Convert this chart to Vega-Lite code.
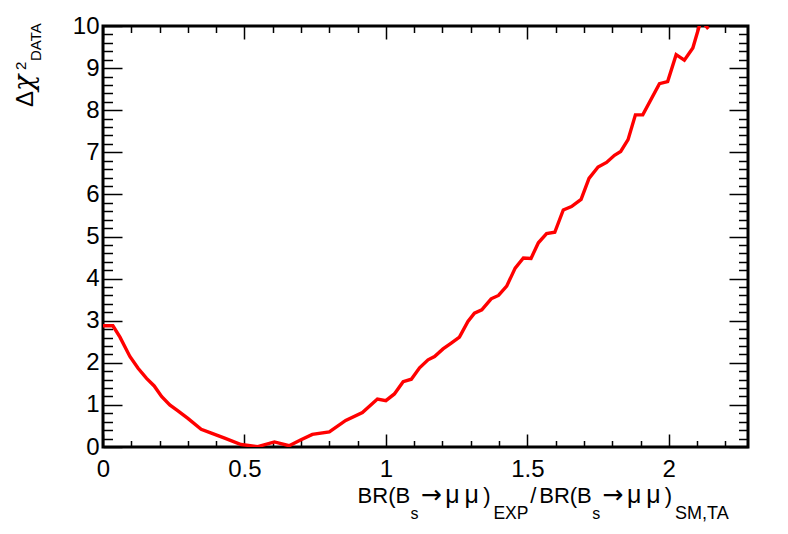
{
  "$schema": "https://vega.github.io/schema/vega-lite/v6.json",
  "width": 645,
  "height": 421,
  "autosize": {"type": "none"},
  "padding": {"left": 103, "top": 26, "right": 40, "bottom": 87},
  "background": "white",
  "config": {
    "view": {"stroke": "black", "strokeWidth": 3},
    "font": "Liberation Sans",
    "axis": {"grid": false, "domain": false, "title": null, "labelFont": "Liberation Sans", "labelFontSize": 24, "labelColor": "black", "tickColor": "black", "tickWidth": 1.5},
    "text": {"font": "Liberation Sans", "color": "black"}
  },
  "data": {"values": [
    {"br": 0.0, "dchi2": 2.88}, {"br": 0.035, "dchi2": 2.88}, {"br": 0.06, "dchi2": 2.61}, {"br": 0.095, "dchi2": 2.15},
    {"br": 0.124, "dchi2": 1.87}, {"br": 0.154, "dchi2": 1.63}, {"br": 0.181, "dchi2": 1.45}, {"br": 0.207, "dchi2": 1.2},
    {"br": 0.236, "dchi2": 1.0}, {"br": 0.265, "dchi2": 0.86}, {"br": 0.3, "dchi2": 0.68}, {"br": 0.347, "dchi2": 0.42},
    {"br": 0.383, "dchi2": 0.33}, {"br": 0.43, "dchi2": 0.21}, {"br": 0.488, "dchi2": 0.06}, {"br": 0.547, "dchi2": 0.01},
    {"br": 0.606, "dchi2": 0.12}, {"br": 0.658, "dchi2": 0.03}, {"br": 0.7, "dchi2": 0.17}, {"br": 0.74, "dchi2": 0.3},
    {"br": 0.8, "dchi2": 0.36}, {"br": 0.858, "dchi2": 0.63}, {"br": 0.917, "dchi2": 0.82}, {"br": 0.97, "dchi2": 1.14},
    {"br": 1.0, "dchi2": 1.1}, {"br": 1.03, "dchi2": 1.26}, {"br": 1.061, "dchi2": 1.55}, {"br": 1.09, "dchi2": 1.61},
    {"br": 1.119, "dchi2": 1.88}, {"br": 1.149, "dchi2": 2.07}, {"br": 1.172, "dchi2": 2.15}, {"br": 1.202, "dchi2": 2.33},
    {"br": 1.231, "dchi2": 2.47}, {"br": 1.26, "dchi2": 2.61}, {"br": 1.29, "dchi2": 2.98}, {"br": 1.313, "dchi2": 3.18},
    {"br": 1.339, "dchi2": 3.26}, {"br": 1.372, "dchi2": 3.52}, {"br": 1.398, "dchi2": 3.6}, {"br": 1.427, "dchi2": 3.82},
    {"br": 1.457, "dchi2": 4.25}, {"br": 1.486, "dchi2": 4.49}, {"br": 1.513, "dchi2": 4.48}, {"br": 1.539, "dchi2": 4.85},
    {"br": 1.568, "dchi2": 5.07}, {"br": 1.597, "dchi2": 5.1}, {"br": 1.627, "dchi2": 5.63}, {"br": 1.656, "dchi2": 5.71},
    {"br": 1.69, "dchi2": 5.88}, {"br": 1.718, "dchi2": 6.38}, {"br": 1.75, "dchi2": 6.65}, {"br": 1.78, "dchi2": 6.76},
    {"br": 1.808, "dchi2": 6.93}, {"br": 1.83, "dchi2": 7.02}, {"br": 1.856, "dchi2": 7.3}, {"br": 1.882, "dchi2": 7.89},
    {"br": 1.908, "dchi2": 7.89}, {"br": 1.967, "dchi2": 8.63}, {"br": 1.996, "dchi2": 8.68}, {"br": 2.026, "dchi2": 9.32},
    {"br": 2.055, "dchi2": 9.19}, {"br": 2.085, "dchi2": 9.48}, {"br": 2.11, "dchi2": 10.05}, {"br": 2.125, "dchi2": 10.05},
    {"br": 2.14, "dchi2": 9.93}
  ]},
  "resolve": {"axis": {"x": "independent", "y": "independent"}},
  "layer": [
    {
      "mark": {"type": "line", "color": "#ff0000", "strokeWidth": 3.4, "clip": true},
      "encoding": {
        "x": {"field": "br", "type": "quantitative", "scale": {"domain": [0, 2.28], "nice": false, "zero": false},
              "axis": {"orient": "bottom", "values": [0, 0.5, 1, 1.5, 2], "ticks": false, "labelPadding": 10, "labelFlush": false, "labelOverlap": false, "format": "~g"}},
        "y": {"field": "dchi2", "type": "quantitative", "scale": {"domain": [0, 10], "nice": false, "zero": false},
              "axis": {"orient": "left", "values": [0, 1, 2, 3, 4, 5, 6, 7, 8, 9, 10], "ticks": false, "labelPadding": 4, "labelFlush": false, "labelOverlap": false, "format": "d"}}
      }
    },
    {
      "mark": {"type": "point", "opacity": 0},
      "encoding": {
        "x": {"field": "br", "type": "quantitative", "scale": {"domain": [0, 2.28], "nice": false, "zero": false},
              "axis": {"orient": "bottom", "values": [0, 0.5, 1, 1.5, 2], "labels": false, "tickSize": -13}},
        "y": {"field": "dchi2", "type": "quantitative", "scale": {"domain": [0, 10], "nice": false, "zero": false},
              "axis": {"orient": "left", "values": [0, 1, 2, 3, 4, 5, 6, 7, 8, 9, 10], "labels": false, "tickSize": -19}}
      }
    },
    {
      "mark": {"type": "point", "opacity": 0},
      "encoding": {
        "x": {"field": "br", "type": "quantitative", "scale": {"domain": [0, 2.28], "nice": false, "zero": false},
              "axis": {"orient": "bottom", "values": [0.1, 0.2, 0.3, 0.4, 0.6, 0.7, 0.8, 0.9, 1.1, 1.2, 1.3, 1.4, 1.6, 1.7, 1.8, 1.9, 2.1, 2.2], "labels": false, "tickSize": -6.5}},
        "y": {"field": "dchi2", "type": "quantitative", "scale": {"domain": [0, 10], "nice": false, "zero": false},
              "axis": {"orient": "left", "values": [0.2, 0.4, 0.6, 0.8, 1.2, 1.4, 1.6, 1.8, 2.2, 2.4, 2.6, 2.8, 3.2, 3.4, 3.6, 3.8, 4.2, 4.4, 4.6, 4.8, 5.2, 5.4, 5.6, 5.8, 6.2, 6.4, 6.6, 6.8, 7.2, 7.4, 7.6, 7.8, 8.2, 8.4, 8.6, 8.8, 9.2, 9.4, 9.6, 9.8], "labels": false, "tickSize": -9.5}}
      }
    },
    {
      "mark": {"type": "point", "opacity": 0},
      "encoding": {
        "x": {"field": "br", "type": "quantitative", "scale": {"domain": [0, 2.28], "nice": false, "zero": false},
              "axis": {"orient": "top", "values": [0, 0.5, 1, 1.5, 2], "labels": false, "tickSize": -13}},
        "y": {"field": "dchi2", "type": "quantitative", "scale": {"domain": [0, 10], "nice": false, "zero": false},
              "axis": {"orient": "right", "values": [0, 1, 2, 3, 4, 5, 6, 7, 8, 9, 10], "labels": false, "tickSize": -19}}
      }
    },
    {
      "mark": {"type": "point", "opacity": 0},
      "encoding": {
        "x": {"field": "br", "type": "quantitative", "scale": {"domain": [0, 2.28], "nice": false, "zero": false},
              "axis": {"orient": "top", "values": [0.1, 0.2, 0.3, 0.4, 0.6, 0.7, 0.8, 0.9, 1.1, 1.2, 1.3, 1.4, 1.6, 1.7, 1.8, 1.9, 2.1, 2.2], "labels": false, "tickSize": -6.5}},
        "y": {"field": "dchi2", "type": "quantitative", "scale": {"domain": [0, 10], "nice": false, "zero": false},
              "axis": {"orient": "right", "values": [0.2, 0.4, 0.6, 0.8, 1.2, 1.4, 1.6, 1.8, 2.2, 2.4, 2.6, 2.8, 3.2, 3.4, 3.6, 3.8, 4.2, 4.4, 4.6, 4.8, 5.2, 5.4, 5.6, 5.8, 6.2, 6.4, 6.6, 6.8, 7.2, 7.4, 7.6, 7.8, 8.2, 8.4, 8.6, 8.8, 9.2, 9.4, 9.6, 9.8], "labels": false, "tickSize": -9.5}}
      }
    },
    {"data": {"values": [{"t": "BR(B"}]}, "mark": {"type": "text", "fontSize": 22, "align": "left", "baseline": "alphabetic"},
     "encoding": {"text": {"field": "t"}, "x": {"datum": 0.9, "type": "quantitative", "axis": null}, "y": {"datum": -1.33, "type": "quantitative", "axis": null}}},
    {"data": {"values": [{"t": "s"}]}, "mark": {"type": "text", "fontSize": 16, "align": "left", "baseline": "alphabetic"},
     "encoding": {"text": {"field": "t"}, "x": {"datum": 1.087, "type": "quantitative", "axis": null}, "y": {"datum": -1.7, "type": "quantitative", "axis": null}}},
    {"data": {"values": [{"t": "→"}]}, "mark": {"type": "text", "font": "DejaVu Sans", "fontSize": 25, "align": "left", "baseline": "alphabetic"},
     "encoding": {"text": {"field": "t"}, "x": {"datum": 1.123, "type": "quantitative", "axis": null}, "y": {"datum": -1.33, "type": "quantitative", "axis": null}}},
    {"data": {"values": [{"t": "μ"}]}, "mark": {"type": "text", "fontSize": 25, "align": "left", "baseline": "alphabetic"},
     "encoding": {"text": {"field": "t"}, "x": {"datum": 1.21, "type": "quantitative", "axis": null}, "y": {"datum": -1.33, "type": "quantitative", "axis": null}}},
    {"data": {"values": [{"t": "μ"}]}, "mark": {"type": "text", "fontSize": 25, "align": "left", "baseline": "alphabetic"},
     "encoding": {"text": {"field": "t"}, "x": {"datum": 1.278, "type": "quantitative", "axis": null}, "y": {"datum": -1.33, "type": "quantitative", "axis": null}}},
    {"data": {"values": [{"t": ")"}]}, "mark": {"type": "text", "fontSize": 22, "align": "left", "baseline": "alphabetic"},
     "encoding": {"text": {"field": "t"}, "x": {"datum": 1.344, "type": "quantitative", "axis": null}, "y": {"datum": -1.33, "type": "quantitative", "axis": null}}},
    {"data": {"values": [{"t": "EXP"}]}, "mark": {"type": "text", "fontSize": 17.5, "align": "left", "baseline": "alphabetic"},
     "encoding": {"text": {"field": "t"}, "x": {"datum": 1.38, "type": "quantitative", "axis": null}, "y": {"datum": -1.7, "type": "quantitative", "axis": null}}},
    {"data": {"values": [{"t": "/"}]}, "mark": {"type": "text", "fontSize": 22, "align": "left", "baseline": "alphabetic"},
     "encoding": {"text": {"field": "t"}, "x": {"datum": 1.51, "type": "quantitative", "axis": null}, "y": {"datum": -1.33, "type": "quantitative", "axis": null}}},
    {"data": {"values": [{"t": "BR(B"}]}, "mark": {"type": "text", "fontSize": 22, "align": "left", "baseline": "alphabetic"},
     "encoding": {"text": {"field": "t"}, "x": {"datum": 1.542, "type": "quantitative", "axis": null}, "y": {"datum": -1.33, "type": "quantitative", "axis": null}}},
    {"data": {"values": [{"t": "s"}]}, "mark": {"type": "text", "fontSize": 16, "align": "left", "baseline": "alphabetic"},
     "encoding": {"text": {"field": "t"}, "x": {"datum": 1.729, "type": "quantitative", "axis": null}, "y": {"datum": -1.7, "type": "quantitative", "axis": null}}},
    {"data": {"values": [{"t": "→"}]}, "mark": {"type": "text", "font": "DejaVu Sans", "fontSize": 25, "align": "left", "baseline": "alphabetic"},
     "encoding": {"text": {"field": "t"}, "x": {"datum": 1.765, "type": "quantitative", "axis": null}, "y": {"datum": -1.33, "type": "quantitative", "axis": null}}},
    {"data": {"values": [{"t": "μ"}]}, "mark": {"type": "text", "fontSize": 25, "align": "left", "baseline": "alphabetic"},
     "encoding": {"text": {"field": "t"}, "x": {"datum": 1.852, "type": "quantitative", "axis": null}, "y": {"datum": -1.33, "type": "quantitative", "axis": null}}},
    {"data": {"values": [{"t": "μ"}]}, "mark": {"type": "text", "fontSize": 25, "align": "left", "baseline": "alphabetic"},
     "encoding": {"text": {"field": "t"}, "x": {"datum": 1.92, "type": "quantitative", "axis": null}, "y": {"datum": -1.33, "type": "quantitative", "axis": null}}},
    {"data": {"values": [{"t": ")"}]}, "mark": {"type": "text", "fontSize": 22, "align": "left", "baseline": "alphabetic"},
     "encoding": {"text": {"field": "t"}, "x": {"datum": 1.986, "type": "quantitative", "axis": null}, "y": {"datum": -1.33, "type": "quantitative", "axis": null}}},
    {"data": {"values": [{"t": "SM,TA"}]}, "mark": {"type": "text", "fontSize": 18, "align": "left", "baseline": "alphabetic"},
     "encoding": {"text": {"field": "t"}, "x": {"datum": 2.022, "type": "quantitative", "axis": null}, "y": {"datum": -1.7, "type": "quantitative", "axis": null}}},
    {"data": {"values": [{"t": "Δ"}]}, "mark": {"type": "text", "fontSize": 24, "align": "left", "baseline": "alphabetic", "angle": 270},
     "encoding": {"text": {"field": "t"}, "x": {"datum": -0.2473, "type": "quantitative", "axis": null}, "y": {"datum": 8.077, "type": "quantitative", "axis": null}}},
    {"data": {"values": [{"t": "χ"}]}, "mark": {"type": "text", "font": "DejaVu Serif", "fontStyle": "italic", "fontSize": 27, "align": "left", "baseline": "alphabetic", "angle": 270},
     "encoding": {"text": {"field": "t"}, "x": {"datum": -0.2473, "type": "quantitative", "axis": null}, "y": {"datum": 8.457, "type": "quantitative", "axis": null}}},
    {"data": {"values": [{"t": "2"}]}, "mark": {"type": "text", "fontSize": 15, "align": "left", "baseline": "alphabetic", "angle": 270},
     "encoding": {"text": {"field": "t"}, "x": {"datum": -0.2707, "type": "quantitative", "axis": null}, "y": {"datum": 8.956, "type": "quantitative", "axis": null}}},
    {"data": {"values": [{"t": "DATA"}]}, "mark": {"type": "text", "fontSize": 15, "align": "left", "baseline": "alphabetic", "angle": 270},
     "encoding": {"text": {"field": "t"}, "x": {"datum": -0.2177, "type": "quantitative", "axis": null}, "y": {"datum": 9.169, "type": "quantitative", "axis": null}}}
  ]
}
